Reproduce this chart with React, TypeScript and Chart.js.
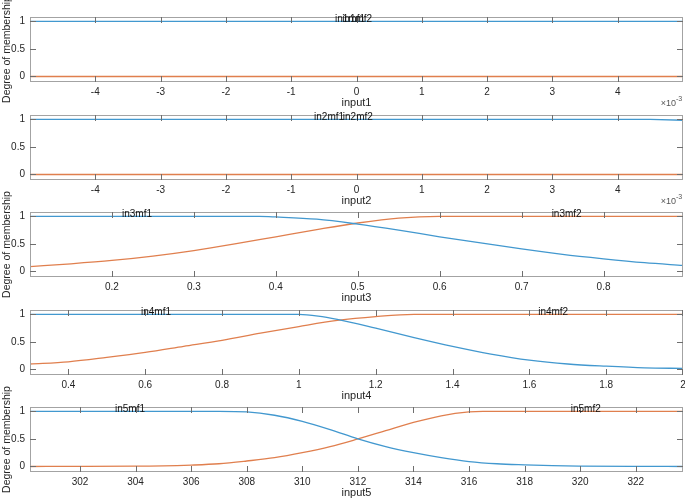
import React, { useEffect, useRef } from 'react';
import { Chart, registerables } from 'chart.js';
Chart.register(...registerables);

const W = 685;
const H = 501;

// ---------- data ----------
const titles = ['input1', 'input2', 'input3', 'input4', 'input5'];
const yTicks = [0, 0.5, 1];

// input1
const x1 = [-0.005, 0, 0.005];
const in1mf1 = [1, 1, 1];
const in1mf2 = [0, 0, 0];
const ticks1 = [-0.004, -0.003, -0.002, -0.001, 0, 0.001, 0.002, 0.003, 0.004];
const range1 = [-0.005, 0.005];

// input2
const x2 = [-0.005, 0, 0.0045, 0.005];
const in2mf1 = [1, 1, 1, 0.985];
const in2mf2 = [0, 0, 0, 0];
const ticks2 = [-0.004, -0.003, -0.002, -0.001, 0, 0.001, 0.002, 0.003, 0.004];
const range2 = [-0.005, 0.005];

// input3
const x3a = [0.1, 0.2, 0.3, 0.38, 0.4, 0.45, 0.5, 0.55, 0.6, 0.65, 0.7, 0.75, 0.8, 0.85, 0.897];
const in3mf1 = [1, 1, 1, 1, 0.99, 0.95, 0.86, 0.75, 0.63, 0.52, 0.41, 0.31, 0.23, 0.16, 0.11];
const x3b = [0.1, 0.15, 0.2, 0.25, 0.3, 0.35, 0.4, 0.45, 0.5, 0.55, 0.6, 0.7, 0.8, 0.897];
const in3mf2 = [0.09, 0.14, 0.2, 0.28, 0.38, 0.5, 0.63, 0.76, 0.88, 0.97, 1, 1, 1, 1];
const ticks3 = [0.2, 0.3, 0.4, 0.5, 0.6, 0.7, 0.8];
const range3 = [0.1, 0.897];

// input4
const x4a = [0.3, 0.6, 0.9, 1.0, 1.05, 1.1, 1.2, 1.3, 1.4, 1.5, 1.6, 1.7, 1.8, 1.9, 2.0];
const in4mf1 = [1, 1, 1, 1, 0.97, 0.91, 0.75, 0.58, 0.42, 0.28, 0.17, 0.1, 0.06, 0.03, 0.02];
const x4b = [0.3, 0.4, 0.5, 0.6, 0.7, 0.8, 0.9, 1.0, 1.1, 1.2, 1.3, 1.6, 2.0];
const in4mf2 = [0.1, 0.14, 0.22, 0.31, 0.42, 0.53, 0.66, 0.78, 0.89, 0.96, 1, 1, 1];
const ticks4 = [0.4, 0.6, 0.8, 1, 1.2, 1.4, 1.6, 1.8, 2];
const range4 = [0.3, 2];

// input5
const x5a = [300.2, 304, 307, 308, 309, 310, 311, 312, 313, 314, 315, 316, 317, 318, 319, 320, 322, 323.7];
const in5mf1 = [1, 1, 1, 0.99, 0.93, 0.82, 0.67, 0.5, 0.36, 0.25, 0.16, 0.09, 0.05, 0.03, 0.015, 0.008, 0.002, 0];
const x5b = [300.2, 302, 304, 305, 306, 307, 308, 309, 310, 311, 312, 313, 314, 315, 316, 316.5, 320, 323.7];
const in5mf2 = [0, 0.002, 0.006, 0.01, 0.025, 0.05, 0.1, 0.16, 0.25, 0.36, 0.5, 0.65, 0.8, 0.92, 0.99, 1, 1, 1];
const ticks5 = [302, 304, 306, 308, 310, 312, 314, 316, 318, 320, 322];
const range5 = [300.2, 323.7];

// membership function names and the x (data units) where each is written
const mfNames = [
  ['in1mf1', 'in1mf2'],
  ['in2mf1', 'in2mf2'],
  ['in3mf1', 'in3mf2'],
  ['in4mf1', 'in4mf2'],
  ['in5mf1', 'in5mf2'],
];
const mfLabelX = [
  [-0.0001, 0.00001],
  [-0.00042, 0.00002],
  [0.2306, 0.755],
  [0.628, 1.662],
  [303.8, 320.2],
];
const yLabelText = 'Degree of membership';

// ---------- layout ----------
const PLOT_LEFT = 30;
const PLOT_RIGHT = 683;
const PLOT_H = 65;
const tops = [17, 115, 212, 310, 407];
const XAXIS_H = 28;
const Y_MIN = -0.1;
const Y_MAX = 1.08;
const showYLabel = [true, false, true, false, true];
const showExp = [true, true, false, false, false];
const smooth = [false, false, true, true, true];

const BLUE = '#4298cf';
const ORANGE = '#e07f4e';
const LINE_W = 1.3;
const FONT = '"Liberation Sans", Arial, Helvetica, sans-serif';
const TEXT = '#262626';

const pts = (xs: number[], ys: number[]) => xs.map((x, i) => ({ x, y: ys[i] }));

const subplots = [
  { mf1: pts(x1, in1mf1), mf2: pts(x1, in1mf2), ticks: ticks1, range: range1, fmt: (v: number) => String(Math.round(v * 1000)) },
  { mf1: pts(x2, in2mf1), mf2: pts(x2, in2mf2), ticks: ticks2, range: range2, fmt: (v: number) => String(Math.round(v * 1000)) },
  { mf1: pts(x3a, in3mf1), mf2: pts(x3b, in3mf2), ticks: ticks3, range: range3, fmt: (v: number) => String(Math.round(v * 10) / 10) },
  { mf1: pts(x4a, in4mf1), mf2: pts(x4b, in4mf2), ticks: ticks4, range: range4, fmt: (v: number) => String(Math.round(v * 10) / 10) },
  { mf1: pts(x5a, in5mf1), mf2: pts(x5b, in5mf2), ticks: ticks5, range: range5, fmt: (v: number) => String(v) },
];

function Sub({ idx }: { idx: number }) {
  const ref = useRef<HTMLCanvasElement>(null);
  useEffect(() => {
    const sp = subplots[idx];
    const top = tops[idx];
    const bottomPad = H - (top + PLOT_H) - XAXIS_H;
    const deco = {
      id: 'matlabDeco' + idx,
      afterDraw(chart: any) {
        const { ctx, chartArea: a, scales } = chart;
        const xs = scales.x;
        const ys = scales.y;
        ctx.save();
        // axes box
        ctx.strokeStyle = '#a3a3a3';
        ctx.lineWidth = 1;
        ctx.strokeRect(Math.round(a.left) + 0.5, Math.round(a.top) + 0.5, Math.round(a.right - a.left) - 1, Math.round(a.bottom - a.top) - 1);
        // inward tick marks on all four sides
        ctx.strokeStyle = '#6e6e6e';
        ctx.beginPath();
        sp.ticks.forEach((v: number) => {
          const px = Math.min(Math.round(xs.getPixelForValue(v)), Math.round(a.right) - 1) + 0.5;
          ctx.moveTo(px, a.top);
          ctx.lineTo(px, a.top + 6);
          ctx.moveTo(px, a.bottom);
          ctx.lineTo(px, a.bottom - 6);
        });
        yTicks.forEach((v) => {
          const py = Math.round(ys.getPixelForValue(v)) + 0.5;
          ctx.moveTo(a.left, py);
          ctx.lineTo(a.left + 6, py);
          ctx.moveTo(a.right, py);
          ctx.lineTo(a.right - 6, py);
        });
        ctx.stroke();
        // membership function names
        ctx.fillStyle = '#111';
        ctx.font = `10px ${FONT}`;
        ctx.textAlign = 'center';
        ctx.textBaseline = 'middle';
        mfNames[idx].forEach((name, k) => {
          ctx.fillText(name, xs.getPixelForValue(mfLabelX[idx][k]), ys.getPixelForValue(1) - 2);
        });
        // y label (not squeezed to the axis height, as in MATLAB)
        if (showYLabel[idx]) {
          ctx.save();
          ctx.translate(7, (a.top + a.bottom) / 2);
          ctx.rotate(-Math.PI / 2);
          ctx.font = `10.5px ${FONT}`;
          ctx.fillStyle = TEXT;
          ctx.textAlign = 'center';
          ctx.textBaseline = 'middle';
          ctx.fillText(yLabelText, 0, 0);
          ctx.restore();
        }
        // axis exponent
        if (showExp[idx]) {
          ctx.fillStyle = '#555';
          ctx.textAlign = 'right';
          ctx.textBaseline = 'alphabetic';
          ctx.font = `9px ${FONT}`;
          ctx.fillText('\u00d710', 676, a.bottom + 24);
          ctx.textAlign = 'left';
          ctx.font = `7px ${FONT}`;
          ctx.fillText('-3', 676, a.bottom + 19);
        }
        ctx.restore();
      },
    };
    const lineOpts: any = smooth[idx] ? { cubicInterpolationMode: 'monotone' } : { tension: 0 };
    const chart = new Chart(ref.current as HTMLCanvasElement, {
      type: 'line',
      data: {
        datasets: [
          { data: sp.mf1, borderColor: BLUE, borderWidth: LINE_W, pointRadius: 0, fill: false, ...lineOpts },
          { data: sp.mf2, borderColor: ORANGE, borderWidth: LINE_W, pointRadius: 0, fill: false, ...lineOpts },
        ],
      },
      options: {
        responsive: false,
        animation: false,
        events: [],
        layout: { padding: { left: 0, right: W - PLOT_RIGHT, top, bottom: bottomPad } },
        plugins: { legend: { display: false }, tooltip: { enabled: false }, title: { display: false } },
        scales: {
          x: {
            type: 'linear',
            min: sp.range[0],
            max: sp.range[1],
            grid: { display: false, drawTicks: false },
            border: { display: false },
            afterBuildTicks: (s: any) => { s.ticks = sp.ticks.map((v: number) => ({ value: v })); },
            afterFit: (s: any) => {
              s.height = XAXIS_H;
              s.paddingLeft = 0;
              s.paddingRight = 0;
            },
            ticks: {
              autoSkip: false,
              maxRotation: 0,
              padding: 4,
              color: TEXT,
              font: { family: FONT, size: 10 },
              callback: (v: any) => sp.fmt(Number(v)),
            },
            title: { display: true, text: titles[idx], color: TEXT, font: { family: FONT, size: 11 }, padding: { top: 0, bottom: 0 } },
          },
          y: {
            type: 'linear',
            min: Y_MIN,
            max: Y_MAX,
            grid: { display: false, drawTicks: false },
            border: { display: false },
            afterBuildTicks: (s: any) => { s.ticks = yTicks.map((v) => ({ value: v })); },
            afterFit: (s: any) => {
              s.width = PLOT_LEFT;
              s.paddingTop = 0;
              s.paddingBottom = 0;
            },
            ticks: {
              padding: 5,
              color: TEXT,
              font: { family: FONT, size: 10 },
              callback: (v: any) => String(v),
            },
          },
        },
      } as any,
      plugins: [deco],
    });
    return () => chart.destroy();
  }, [idx]);
  return (
    <canvas
      ref={ref}
      width={W}
      height={H}
      style={{ position: 'absolute', left: 0, top: 0, width: W, height: H }}
    />
  );
}

export default function App() {
  return (
    <div style={{ position: 'fixed', left: 0, top: 0, width: W, height: H, background: '#fff', fontFamily: FONT }}>
      {[0, 1, 2, 3, 4].map((i) => (
        <Sub key={i} idx={i} />
      ))}
    </div>
  );
}
